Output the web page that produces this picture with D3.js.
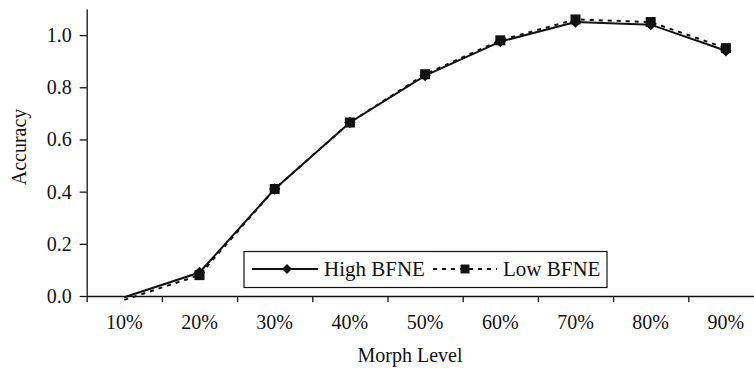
<!DOCTYPE html>
<html>
<head>
<meta charset="utf-8">
<script src="https://cdn.jsdelivr.net/npm/d3@7"></script>
<style>
  html, body { margin: 0; padding: 0; background: #fff; }
  svg { display: block; }
</style>
</head>
<body>
<svg id="chart" width="754" height="370" font-family="Liberation Serif"></svg>
<script>
const categories = ["10%", "20%", "30%", "40%", "50%", "60%", "70%", "80%", "90%"];
const highBFNE = [-0.005, 0.09, 0.41, 0.665, 0.845, 0.975, 1.05, 1.04, 0.94];
const lowBFNE  = [-0.015, 0.08, 0.41, 0.665, 0.85, 0.98, 1.06, 1.05, 0.95];
const yTicks = [0, 0.2, 0.4, 0.6, 0.8, 1.0];
const seriesNames = ["High BFNE", "Low BFNE"];

(function () {
const svg = d3.select("#chart");
const ink = "#111";
const FONT = "Liberation Serif";
const pLeft = 86.7, pRight = 763.5, pTop = 9, pBottom = 296;

const x = d3.scaleBand().domain(categories).range([pLeft, pRight]).padding(0);
const xEdges = d3.scaleLinear().domain([0, categories.length]).range([pLeft, pRight]);
const y = d3.scaleLinear().domain([0, 1.1]).range([pBottom, pTop]);

function setFont(sel, size) {
  sel.attr("font-family", FONT).attr("font-size", size).attr("fill", ink)
     .style("font-family", `"${FONT}"`).style("font-size", size + "px");
}

// Y axis
const yAxis = svg.append("g").attr("transform", `translate(${pLeft},0)`)
  .call(d3.axisLeft(y).tickValues(yTicks).tickFormat(d3.format(".1f")).tickSize(7).tickPadding(8).tickSizeOuter(0));
yAxis.attr("font-family", FONT).attr("font-size", 20);
yAxis.select(".domain").attr("stroke", ink).attr("stroke-width", 1.3);
yAxis.selectAll(".tick line").attr("stroke", ink).attr("stroke-width", 1.3);
setFont(yAxis.selectAll("text"), 20);

// X axis: ticks at band edges
const xTickAxis = svg.append("g").attr("transform", `translate(0,${pBottom})`)
  .call(d3.axisBottom(xEdges).tickValues(d3.range(categories.length + 1)).tickFormat("").tickSize(6).tickSizeOuter(0));
xTickAxis.select(".domain").attr("stroke", ink).attr("stroke-width", 1.3);
xTickAxis.selectAll(".tick line").attr("stroke", ink).attr("stroke-width", 1.3);

const xLabelAxis = svg.append("g").attr("transform", `translate(0,${pBottom})`)
  .call(d3.axisBottom(x).tickSize(0).tickPadding(19));
xLabelAxis.attr("font-family", FONT).attr("font-size", 20);
xLabelAxis.select(".domain").remove();
setFont(xLabelAxis.selectAll("text"), 20);

// Axis titles
setFont(svg.append("text").attr("x", 410).attr("y", 362).attr("text-anchor", "middle").text("Morph Level"), 20);
setFont(svg.append("text").attr("transform", "translate(26,147) rotate(-90)").attr("text-anchor", "middle").text("Accuracy"), 20);

const cx = (d, i) => x(categories[i]) + x.bandwidth() / 2;
const line = d3.line().x((d, i) => cx(d, i)).y(d => y(d));

// Lines
svg.append("path").datum(highBFNE).attr("d", line)
  .attr("fill", "none").attr("stroke", ink).attr("stroke-width", 2);
svg.append("path").datum(lowBFNE).attr("d", line)
  .attr("fill", "none").attr("stroke", ink).attr("stroke-width", 2).attr("stroke-dasharray", "4,5");

// Markers (not drawn below the axis minimum)
svg.append("g").selectAll("path").data(highBFNE.map((v, i) => ({v, i})).filter(d => d.v >= 0))
  .join("path")
  .attr("d", d3.symbol().type(d3.symbolSquare).size(64)())
  .attr("transform", d => `translate(${cx(d.v, d.i)},${y(d.v)}) rotate(45)`)
  .attr("fill", ink);
svg.append("g").selectAll("path").data(lowBFNE.map((v, i) => ({v, i})).filter(d => d.v >= 0))
  .join("path")
  .attr("d", d3.symbol().type(d3.symbolSquare).size(100)())
  .attr("transform", d => `translate(${cx(d.v, d.i)},${y(d.v)})`)
  .attr("fill", ink);

// Legend
const lg = svg.append("g");
lg.append("rect").attr("x", 244).attr("y", 251.5).attr("width", 363).attr("height", 36)
  .attr("fill", "#fff").attr("stroke", ink).attr("stroke-width", 1.2);
const ly = 269;
lg.append("line").attr("x1", 252).attr("x2", 318).attr("y1", ly).attr("y2", ly)
  .attr("stroke", ink).attr("stroke-width", 2);
lg.append("path").attr("d", d3.symbol().type(d3.symbolSquare).size(50)())
  .attr("transform", `translate(287,${ly}) rotate(45)`).attr("fill", ink);
setFont(lg.append("text").attr("x", 324).attr("y", 276).text(seriesNames[0]), 21);
lg.append("line").attr("x1", 433).attr("x2", 497).attr("y1", ly).attr("y2", ly)
  .attr("stroke", ink).attr("stroke-width", 2).attr("stroke-dasharray", "4,5");
lg.append("path").attr("d", d3.symbol().type(d3.symbolSquare).size(80)())
  .attr("transform", `translate(465,${ly})`).attr("fill", ink);
setFont(lg.append("text").attr("x", 503).attr("y", 276).text(seriesNames[1]), 21);
})();
</script>
</body>
</html>
